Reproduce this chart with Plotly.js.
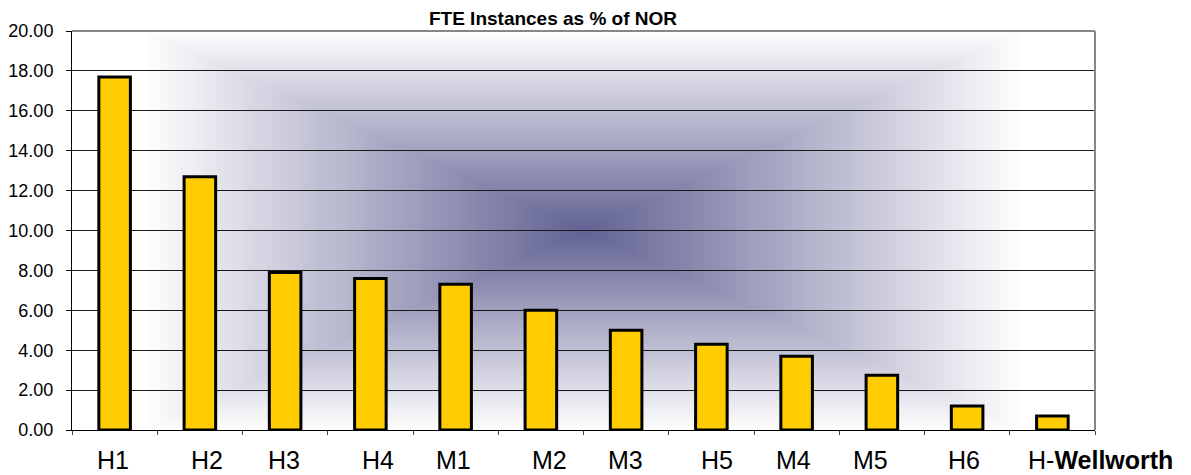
<!DOCTYPE html>
<html>
<head>
<meta charset="utf-8">
<script src="https://cdn.plot.ly/plotly-3.0.1.min.js"></script>
<style>
  html, body { margin: 0; padding: 0; background: #ffffff; }
  #chart { width: 1191px; height: 475px; }
</style>
</head>
<body>
<div id="chart"></div>
<script>
// ---- data ----
const categories = ['H1', 'H2', 'H3', 'H4', 'M1', 'M2', 'M3', 'H5', 'M4', 'M5', 'H6', 'H-Wellworth'];
const tickLabels = ['H1', 'H2', 'H3', 'H4', 'M1', 'M2', 'M3', 'H5', 'M4', 'M5', 'H6', 'H-<b>Wellworth</b>'];
const fteValues = [17.7, 12.7, 7.9, 7.6, 7.3, 6.0, 5.0, 4.3, 3.7, 2.75, 1.2, 0.7];
const chartTitle = 'FTE Instances as % of NOR';

// ---- label placement (style) ----
const labelShift = [-2, 7.5, -1, 7.5, -2, 8.5, -0.5, 6, -3, -11.5, -3, 48];

const FONT = 'Liberation Sans, Arial, Helvetica, sans-serif';

// ---- background: rectangular "from centre" gradient ----
function makeGradient() {
  const W = 512, H = 200;
  const c = document.createElement('canvas');
  c.width = W; c.height = H;
  const ctx = c.getContext('2d');
  const img = ctx.createImageData(W, H);
  const centre = [98, 98, 148];
  const edge = [255, 255, 255];
  for (let y = 0; y < H; y++) {
    for (let x = 0; x < W; x++) {
      const dx = Math.abs((x + 0.5) - W / 2) / (W / 2) / 0.86;
      const dy = Math.abs((y + 0.5) - H / 2) / (H / 2) / 1.0;
      let t = Math.min(1, Math.max(dx, dy));
      const i = (y * W + x) * 4;
      img.data[i] = Math.round(centre[0] + (edge[0] - centre[0]) * t);
      img.data[i + 1] = Math.round(centre[1] + (edge[1] - centre[1]) * t);
      img.data[i + 2] = Math.round(centre[2] + (edge[2] - centre[2]) * t);
      img.data[i + 3] = 255;
    }
  }
  ctx.putImageData(img, 0, 0);
  return c.toDataURL('image/png');
}

const trace = {
  type: 'bar',
  x: categories,
  y: fteValues,
  width: 0.37,
  marker: { color: '#FFCC00', line: { color: '#000000', width: 3 } },
  hoverinfo: 'x+y'
};

const annotations = categories.map((c, i) => ({
  x: i, xref: 'x',
  y: 0, yref: 'paper',
  yanchor: 'top', xanchor: 'center',
  yshift: -14,
  xshift: labelShift[i],
  text: tickLabels[i],
  showarrow: false,
  font: { family: FONT, size: 25, color: '#000000' }
}));

const layout = {
  width: 1191,
  height: 475,
  margin: { l: 72, r: 96, t: 31, b: 45, pad: 0 },
  paper_bgcolor: '#ffffff',
  plot_bgcolor: 'rgba(0,0,0,0)',
  showlegend: false,
  font: { family: FONT, color: '#000000' },
  title: {
    text: '<b>' + chartTitle + '</b>',
    font: { family: FONT, size: 19, color: '#000000' },
    xref: 'container', x: 553 / 1191, xanchor: 'center',
    yref: 'container', y: 1 - 18.5 / 475, yanchor: 'middle'
  },
  xaxis: {
    type: 'category',
    categoryorder: 'array',
    categoryarray: categories,
    range: [-0.5, categories.length - 0.5],
    autorange: false,
    showticklabels: false,
    tickson: 'boundaries',
    ticks: 'outside',
    ticklen: 4,
    tickcolor: '#444444',
    showline: true,
    linecolor: '#000000',
    linewidth: 1,
    showgrid: false,
    zeroline: false,
    fixedrange: true
  },
  yaxis: {
    range: [0, 20],
    autorange: false,
    dtick: 2,
    tick0: 0,
    tickformat: '.2f',
    ticks: 'outside',
    ticklen: 5,
    tickcolor: '#000000',
    ticklabelstandoff: 9,
    tickfont: { family: FONT, size: 18, color: '#000000' },
    showline: true,
    linecolor: '#000000',
    linewidth: 1,
    showgrid: true,
    gridcolor: '#1a1a1a',
    gridwidth: 1,
    zeroline: false,
    fixedrange: true
  },
  images: [{
    source: makeGradient(),
    xref: 'paper', yref: 'paper',
    x: 0, y: 1, sizex: 1, sizey: 1,
    xanchor: 'left', yanchor: 'top',
    sizing: 'stretch',
    layer: 'below'
  }],
  shapes: [
    { type: 'line', xref: 'paper', yref: 'paper', x0: 0, x1: 1, y0: 1, y1: 1,
      line: { color: '#868686', width: 2 } },
    { type: 'line', xref: 'paper', yref: 'paper', x0: 1, x1: 1, y0: 0, y1: 1,
      line: { color: '#868686', width: 2 } }
  ],
  annotations: annotations
};

Plotly.newPlot('chart', [trace], layout, { displayModeBar: false, staticPlot: true });
</script>
</body>
</html>
